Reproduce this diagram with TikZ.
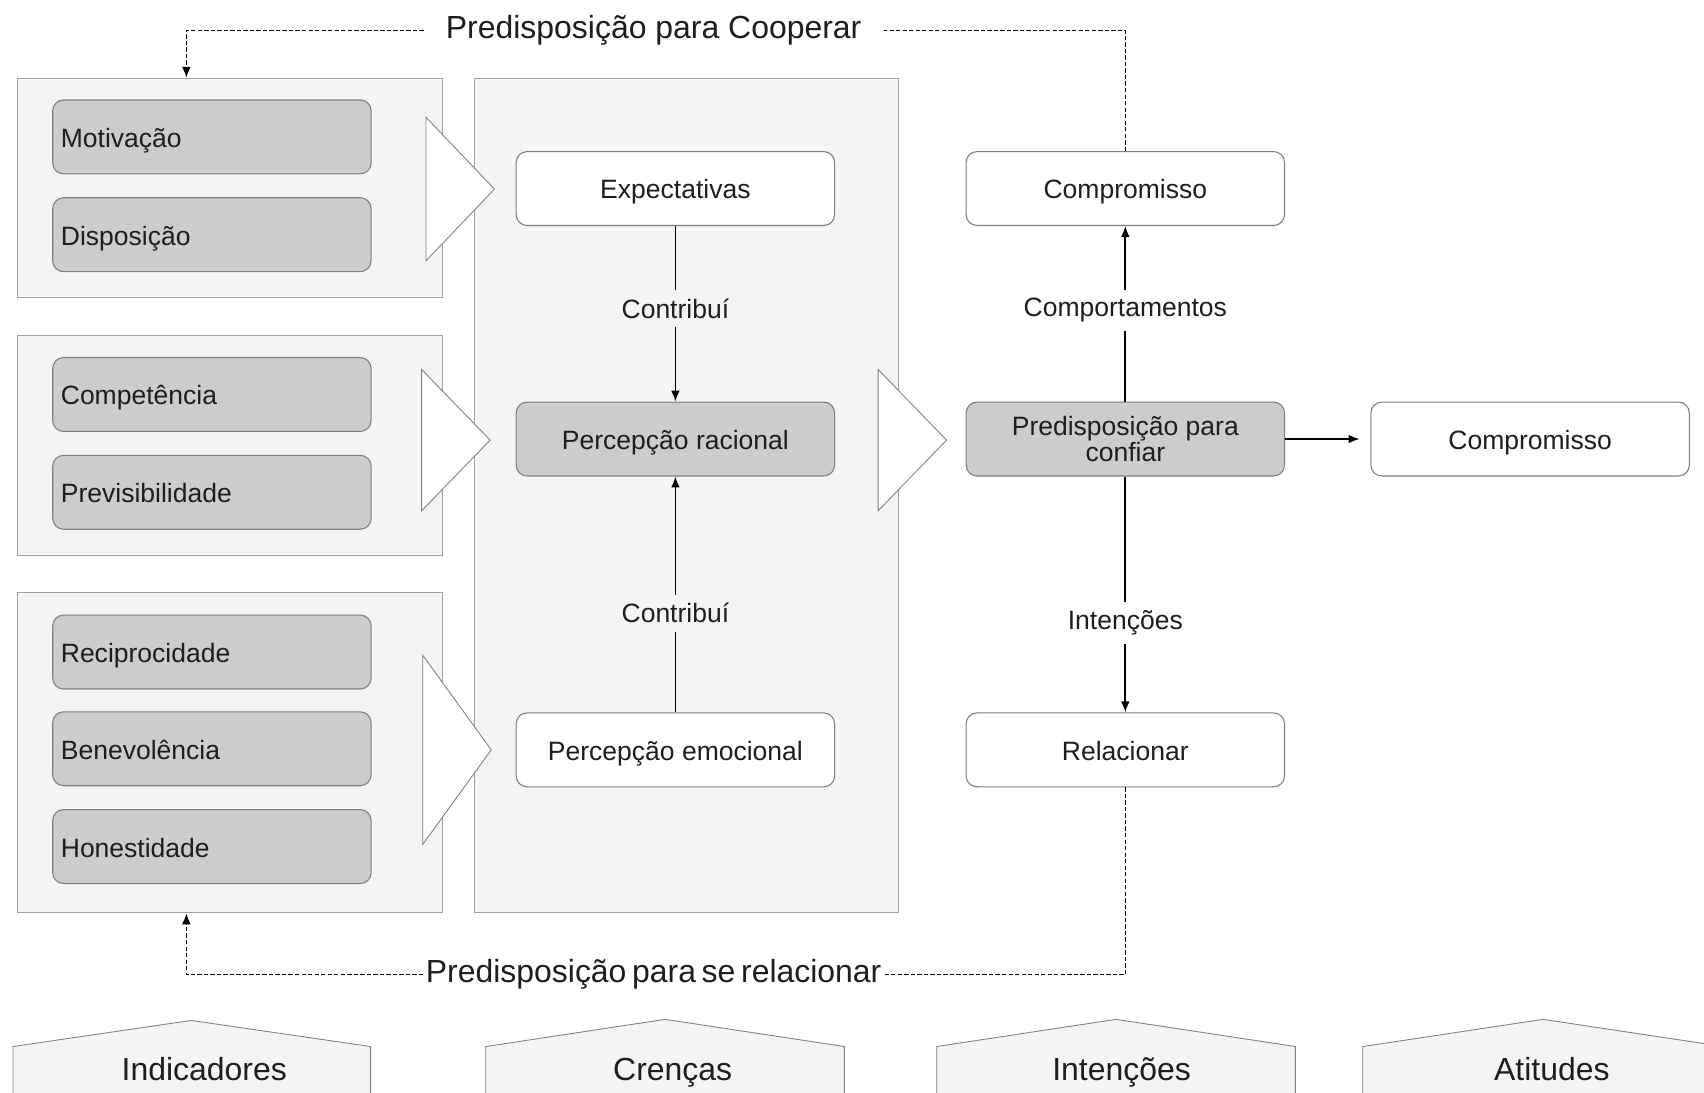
\documentclass[tikz,border=0pt]{standalone}
\usepackage{fontspec}
\setmainfont{Liberation Sans}
\usetikzlibrary{arrows.meta,calc}
\definecolor{grpfill}{HTML}{F4F4F4}
\definecolor{grpdraw}{HTML}{A0A0A0}
\definecolor{boxgray}{HTML}{CCCCCC}
\definecolor{boxdraw}{HTML}{7F7F7F}
\definecolor{txt}{HTML}{1E1E1E}
\tikzset{
  grp/.style={draw=grpdraw, fill=grpfill, line width=0.5pt, inner sep=0pt},
  basebox/.style={rounded corners=5pt, draw=boxdraw, line width=0.5pt,
    minimum width=146.5pt, minimum height=34pt, text=txt,
    font=\fontsize{12.2}{12}\selectfont},
  oneline/.style={text height=12pt, text depth=2.4pt},
  lbox/.style={basebox, oneline, fill=boxgray, text width=139pt, align=left, inner xsep=3.75pt},
  gbox/.style={basebox, fill=boxgray, align=center},
  wbox/.style={basebox, oneline, fill=white, align=center},
  tri/.style={draw=boxdraw, fill=white, line width=0.4pt, line join=miter},
  pent/.style={draw=boxdraw, fill=grpfill, line width=0.4pt},
  arr/.style={draw=black, line width=0.8pt, -{Latex[length=5pt,width=4pt]}},
  dsh/.style={draw=black, line width=0.6pt, dash pattern=on 2pt off 1pt},
  lbl/.style={text=txt, font=\fontsize{12.2}{14}\selectfont, inner sep=4pt},
  ttl/.style={text=txt, font=\fontsize{14.7}{17}\selectfont},
  plab/.style={text=txt, font=\fontsize{14.7}{17}\selectfont, anchor=base},
}
\begin{document}
\begin{tikzpicture}[x=0.5pt,y=-0.5pt]
\useasboundingbox (0,0) rectangle (1568,1005);
\clip (0,0) rectangle (1568,1005);
\fill[white] (0,0) rectangle (1568,1005);

% group boxes
\node[grp, minimum width=195.5pt, minimum height=101pt] (g1) at (211.5,173) {};
\node[grp, minimum width=195.5pt, minimum height=101pt] (g2) at (211.5,410) {};
\node[grp, minimum width=195.5pt, minimum height=147.5pt] (g3) at (211.5,692.5) {};
\node[grp, minimum width=195pt, minimum height=384pt] (cen) at (632,456) {};

% big arrows (triangles)
\draw[tri] (392,108) -- (455,174) -- (392,240) -- cycle;
\draw[tri] (388,340) -- (451,405) -- (388,470) -- cycle;
\draw[tri] (389,603) -- (452,690) -- (389,777) -- cycle;
\draw[tri] (808,340) -- (871,405) -- (808,470) -- cycle;

% indicator boxes
\node[lbox] (mot) at (195,126) {Motivação};
\node[lbox] (dis) at (195,216) {Disposição};
\node[lbox] (cpt) at (195,363) {Competência};
\node[lbox] (pre) at (195,453) {Previsibilidade};
\node[lbox] (rec) at (195,600) {Reciprocidade};
\node[lbox] (ben) at (195,689) {Benevolência};
\node[lbox] (hon) at (195,779) {Honestidade};

% beliefs
\node[wbox] (exp) at (621.5,173.5) {Expectativas};
\node[gbox, oneline] (rac) at (621.5,404) {Percepção racional};
\node[wbox] (emo) at (621.5,690) {Percepção emocional};

% right column
\node[wbox] (cp1) at (1035.5,173.5) {Compromisso};
\node[gbox] (pdc) at (1035.5,404) {Predisposição para\\confiar};
\node[wbox] (rel) at (1035.5,690) {Relacionar};
\node[wbox] (cp2) at (1408,404) {Compromisso};

% connectors
\draw[arr] (exp) -- node[lbl, fill=grpfill, pos=0.47] {Contribuí} (rac);
\draw[arr] (emo) -- node[lbl, fill=grpfill, pos=0.42] {Contribuí} (rac);
\draw[arr] (pdc) -- node[lbl, fill=white, pos=0.52] {Comportamentos} (cp1);
\draw[arr] (pdc) -- node[lbl, fill=white, pos=0.62] {Intenções} (rel);
\draw[arr, shorten >=5pt] (pdc.east) -- (pdc.east -| cp2.west);

% dashed feedback loops
\node[ttl, inner xsep=10pt] (t1) at (601.5,28) {Predisposição para Cooperar};
\draw[dsh] (cp1.north) |- (t1.east);
\draw[dsh, -{Latex[length=5pt,width=4pt]}] (t1.west) -| ([xshift=78pt]g1.north west);

\node[ttl, inner xsep=1pt] (t2) at (601.5,897) {\spaceskip=2.6pt Predisposição para se relacionar};
\draw[dsh] (rel.south) |- (t2.east);
\draw[dsh, -{Latex[length=5pt,width=4pt]}] (t2.west) -| ([xshift=78pt]g3.south west);

% bottom category tabs
\draw[pent] (12,1012) -- (12,963) -- (176,939) -- (341,963) -- (341,1012);
\draw[pent] (447,1012) -- (447,963) -- (612,938) -- (777,963) -- (777,1012);
\draw[pent] (862,1012) -- (862,963) -- (1027,938) -- (1192,963) -- (1192,1012);
\draw[pent] (1254,1012) -- (1254,963) -- (1420,938) -- (1586,963) -- (1586,1012);
\node[plab] (c1) at (188,994) {Indicadores};
\node[plab] (c2) at (619,994) {Crenças};
\node[plab] (c3) at (1032,994) {Intenções};
\node[plab] (c4) at (1428,994) {Atitudes};
\end{tikzpicture}
\end{document}
